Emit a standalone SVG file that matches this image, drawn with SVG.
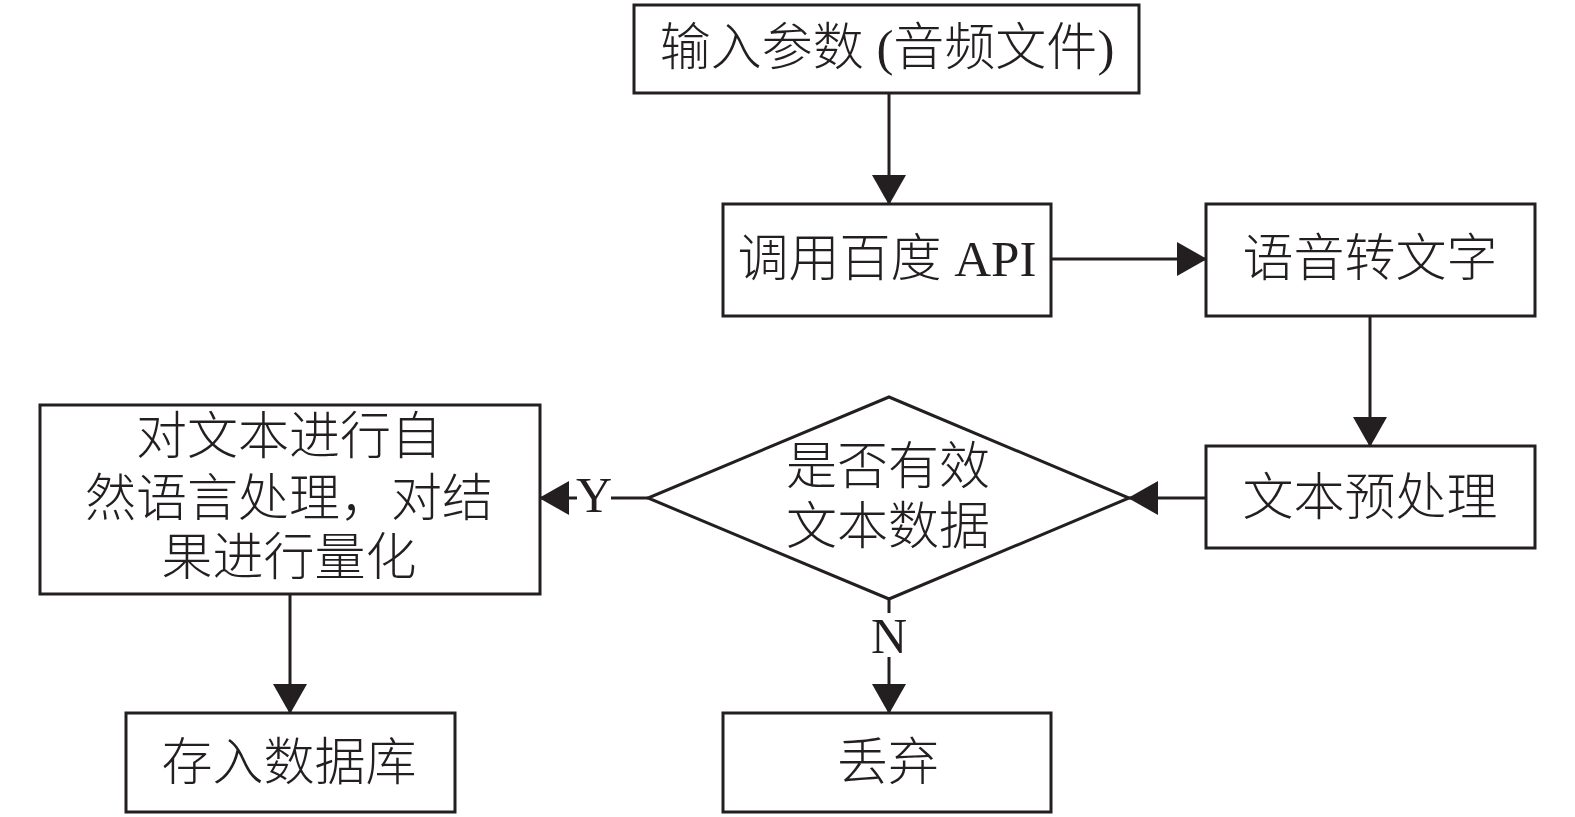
<svg xmlns="http://www.w3.org/2000/svg" width="1575" height="817" viewBox="0 0 1575 817">
<style>
.box{fill:#fff;stroke:#231f20;stroke-width:3}
.ln{fill:none;stroke:#231f20;stroke-width:3}
.t{font-family:"Liberation Serif","Noto Sans CJK SC",serif;font-size:51px;font-weight:300;fill:#231f20;text-anchor:middle;dominant-baseline:central}
.lbl{font-family:"Liberation Serif",serif;font-size:50px;fill:#231f20;text-anchor:middle;dominant-baseline:central}
.bg{fill:#fff}
</style>
<defs>
<marker id="ah" markerUnits="userSpaceOnUse" markerWidth="30" markerHeight="34" refX="29" refY="17" orient="auto">
<path d="M0,0 L30,17 L0,34 z" fill="#231f20"/>
</marker>
</defs>
<g id="connectors">
<path class="ln" d="M889,93 V204" marker-end="url(#ah)"/>
<path class="ln" d="M1051,259 H1206" marker-end="url(#ah)"/>
<path class="ln" d="M1370,316 V446" marker-end="url(#ah)"/>
<path class="ln" d="M1206,498 H1129" marker-end="url(#ah)"/>
<path class="ln" d="M648,498 H540" marker-end="url(#ah)"/>
<path class="ln" d="M889,599 V713" marker-end="url(#ah)"/>
<path class="ln" d="M290,594 V713" marker-end="url(#ah)"/>
<rect class="bg" x="577" y="478" width="34" height="38"/>
<text class="lbl" x="594" y="495">Y</text>
<rect class="bg" x="871" y="613" width="36" height="44"/>
<text class="lbl" x="889" y="636">N</text>
</g>
<g id="n1">
<rect class="box" x="634" y="5" width="505" height="88"/>
<text class="t" x="887" y="48">输入参数 (音频文件)</text>
</g>
<g id="n2">
<rect class="box" x="723" y="204" width="328" height="112"/>
<text class="t" x="887" y="259">调用百度 API</text>
</g>
<g id="n3">
<rect class="box" x="1206" y="204" width="329" height="112"/>
<text class="t" x="1370" y="259">语音转文字</text>
</g>
<g id="n4">
<rect class="box" x="1206" y="446" width="329" height="102"/>
<text class="t" x="1370" y="498">文本预处理</text>
</g>
<g id="n5">
<path class="box" d="M889,397 L1129,498 L889,599 L648,498 Z"/>
<text class="t" x="888" y="467">是否有效</text>
<text class="t" x="888" y="527">文本数据</text>
</g>
<g id="n6">
<rect class="box" x="40" y="405" width="500" height="189"/>
<text class="t" x="289" y="437">对文本进行自</text>
<text class="t" x="289" y="499">然语言处理，对结</text>
<text class="t" x="289" y="558">果进行量化</text>
</g>
<g id="n7">
<rect class="box" x="126" y="713" width="329" height="99"/>
<text class="t" x="289" y="763">存入数据库</text>
</g>
<g id="n8">
<rect class="box" x="723" y="713" width="328" height="99"/>
<text class="t" x="888" y="763">丢弃</text>
</g>
</svg>
